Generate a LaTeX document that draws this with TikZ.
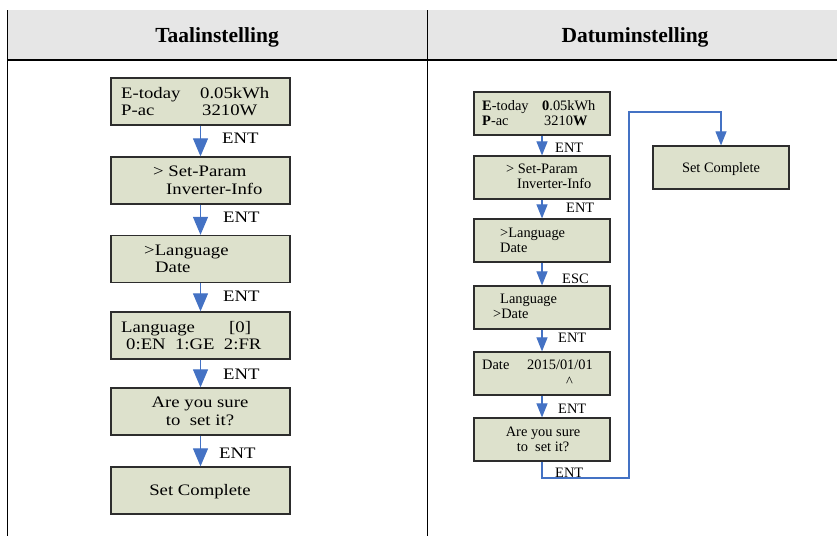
\documentclass[tikz,border=0pt]{standalone}
\usepackage{fontspec}
\setmainfont{Liberation Serif}
\newfontfamily\lfont[FakeStretch=1.17]{Liberation Serif}
\newfontfamily\rfont[FakeStretch=1.0]{Liberation Serif}
\usetikzlibrary{arrows.meta}
\definecolor{boxfill}{RGB}{221,225,204}
\definecolor{hdrfill}{RGB}{230,230,230}
\definecolor{arrblue}{RGB}{68,114,196}
\definecolor{boxline}{RGB}{45,45,45}
\begin{document}
\begin{tikzpicture}[x=1pt,y=-1pt,
  lbox/.style={draw=boxline, line width=1.3pt, fill=boxfill, minimum width=179pt, minimum height=47pt, inner sep=0pt},
  rbox/.style={draw=boxline, line width=1.2pt, fill=boxfill, minimum width=136pt, minimum height=43pt, inner sep=0pt},
  ltxt/.style={font=\lfont\fontsize{16}{19}\selectfont, inner sep=0pt, anchor=base west},
  ltxtc/.style={ltxt, anchor=base},
  rtxt/.style={font=\rfont\fontsize{14.4}{17}\selectfont, inner sep=0pt, anchor=base west},
  rtxtc/.style={rtxt, anchor=base},
  larr/.style={draw=arrblue, line width=1.2pt, -{Triangle[width=15pt,length=18pt]}},
  rarr/.style={draw=arrblue, line width=1.1pt, -{Triangle[width=11pt,length=14pt]}},
  hdr/.style={font=\bfseries\fontsize{21.5}{24}\selectfont, inner sep=0pt, anchor=base}]
\useasboundingbox (0,0) rectangle (837,536);
% table
\fill[hdrfill] (7,10) rectangle (837,60);
\draw[line width=1.2pt] (7,60) -- (837,60);
\draw[line width=1pt] (7,10) -- (7,536);
\draw[line width=1pt] (427,10) -- (427,536);
\node[hdr] (h1) at (217,42) {Taalinstelling};
\node[hdr] (h2) at (635,42) {Datuminstelling};
% left column boxes
\node[lbox] (b1) at (200.5,101.5) {};
\node[lbox] (b2) at (200.5,180.5) {};
\node[lbox] (b3) at (200.5,259) {};
\node[lbox] (b4) at (200.5,335.5) {};
\node[lbox] (b5) at (200.5,411.5) {};
\node[lbox] (b6) at (200.5,490.5) {};
\node[ltxt] (b1a) at (121,98) {E-today};
\node[ltxt] (b1b) at (200,98) {0.05kWh};
\node[ltxt] (b1c) at (121,115) {P-ac};
\node[ltxt] (b1d) at (202,115) {3210W};
\node[ltxt] (b2a) at (153,176) {> Set-Param};
\node[ltxt] (b2b) at (166,194) {Inverter-Info};
\node[ltxt] (b3a) at (144,255) {>Language};
\node[ltxt] (b3b) at (155,272) {Date};
\node[ltxt] (b4a) at (121,332) {Language};
\node[ltxt] (b4b) at (229,332) {[0]};
\node[ltxt] (b4c) at (126,349) {0:EN\ \ 1:GE\ \ 2:FR};
\node[ltxtc] (b5a) at (200,407) {Are you sure};
\node[ltxtc] (b5b) at (200,425) {to\ \ set it?};
\node[ltxtc] (b6a) at (200,495) {Set Complete};
\draw[larr] (b1) -- (b2);
\draw[larr] (b2) -- (b3);
\draw[larr] (b3) -- (b4);
\draw[larr] (b4) -- (b5);
\draw[larr] (b5) -- (b6);
\node[ltxt] (e1) at (222,143) {ENT};
\node[ltxt] (e2) at (223,222) {ENT};
\node[ltxt] (e3) at (223,301) {ENT};
\node[ltxt] (e4) at (223,379) {ENT};
\node[ltxt] (e5) at (219,458) {ENT};
% right column boxes
\node[rbox] (r1) at (542,113.5) {};
\node[rbox] (r2) at (542,177.5) {};
\node[rbox] (r3) at (542,240.5) {};
\node[rbox] (r4) at (542,307.5) {};
\node[rbox] (r5) at (542,373.5) {};
\node[rbox] (r6) at (542,439.5) {};
\node[rbox] (sc) at (721,167.5) {};
\node[rtxt] (r1a) at (482,110) {\textbf{E}-today};
\node[rtxt] (r1b) at (542,110) {\textbf{0}.05kWh};
\node[rtxt] (r1c) at (482,125) {\textbf{P}-ac};
\node[rtxt] (r1d) at (544,125) {3210\textbf{W}};
\node[rtxt] (r2a) at (506,173) {> Set-Param};
\node[rtxt] (r2b) at (517,188) {Inverter-Info};
\node[rtxt] (r3a) at (500,237) {>Language};
\node[rtxt] (r3b) at (500,252) {Date};
\node[rtxt] (r4a) at (500,303) {Language};
\node[rtxt] (r4b) at (493,318) {>Date};
\node[rtxt] (r5a) at (482,369) {Date};
\node[rtxt] (r5b) at (527,369) {2015/01/01};
\node[rtxt] (r5c) at (566,386) {\^{}};
\node[rtxtc] (r6a) at (543,436) {Are you sure};
\node[rtxtc] (r6b) at (543,451) {to\ \ set it?};
\node[rtxtc] (sca) at (721,172) {Set Complete};
\draw[rarr] (r1) -- (r2);
\draw[rarr] (r2) -- (r3);
\draw[rarr] (r3) -- (r4);
\draw[rarr] (r4) -- (r5);
\draw[rarr] (r5) -- (r6);
\coordinate (lp1) at (629,478);
\coordinate (lp2) at (629,112);
\draw[rarr] (r6.south) |- (lp1) -- (lp2) -| (sc.north);
\node[rtxt] (f1) at (555,152) {ENT};
\node[rtxt] (f2) at (566,212) {ENT};
\node[rtxt] (f3) at (562,283) {ESC};
\node[rtxt] (f4) at (558,342) {ENT};
\node[rtxt] (f5) at (558,413) {ENT};
\node[rtxt] (f6) at (555,477) {ENT};
\end{tikzpicture}
\end{document}
